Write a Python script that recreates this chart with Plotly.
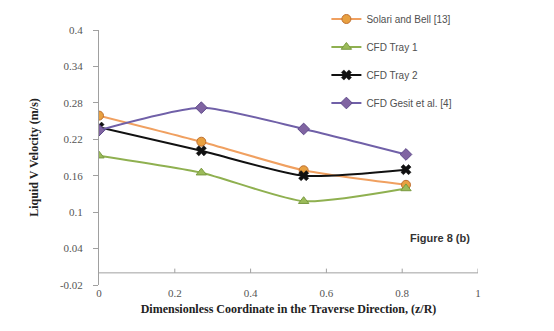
import plotly.graph_objects as go

# Data
x_pos = [0.0, 0.27, 0.54, 0.81]
solari_bell = [0.259, 0.216, 0.169, 0.145]
cfd_tray1 = [0.193, 0.165, 0.118, 0.139]
cfd_tray2 = [0.240, 0.201, 0.160, 0.170]
cfd_gesit = [0.235, 0.272, 0.237, 0.195]

series_names = ["Solari and Bell [13]", "CFD Tray 1", "CFD Tray 2", "CFD Gesit et al. [4]"]
y_ticks = [-0.02, 0.04, 0.1, 0.16, 0.22, 0.28, 0.34, 0.4]
y_tick_text = ["-0.02", "0.04", "0.1", "0.16", "0.22", "0.28", "0.34", "0.4"]
x_ticks = [0, 0.2, 0.4, 0.6, 0.8, 1]
x_tick_text = ["0", "0.2", "0.4", "0.6", "0.8", "1"]

styles = [
    dict(line_color="#F0A060", marker=dict(symbol="circle", size=9, color="#E8A040", line=dict(color="#C07030", width=1))),
    dict(line_color="#8FB050", marker=dict(symbol="triangle-up", size=9, color="#9BBB59", line=dict(color="#7A9A40", width=1))),
    dict(line_color="#111111", marker=dict(symbol="x", size=9, color="#111111", line=dict(color="#111111", width=0.5))),
    dict(line_color="#7060A8", marker=dict(symbol="diamond", size=9, color="#8064A2", line=dict(color="#5E4A8A", width=1))),
]

fig = go.Figure()
for i, (name, ys) in enumerate(zip(series_names, [solari_bell, cfd_tray1, cfd_tray2, cfd_gesit])):
    st = styles[i]
    fig.add_trace(go.Scatter(
        x=x_pos, y=ys, name=name, mode="lines+markers",
        line=dict(color=st["line_color"], width=2, shape="spline", smoothing=0.6),
        marker=st["marker"], legendgroup=f"g{i}",
    ))

# Excel-style horizontal axis line crossing at y = 0, with small tick marks
fig.add_hline(y=0, line_color="#A0A0A0", line_width=1)
for t in x_ticks[1:]:
    fig.add_shape(type="line", xref="x", yref="y", x0=t, x1=t, y0=0, y1=0.007,
                  line=dict(color="#A0A0A0", width=1))

fig.update_layout(
    width=554, height=331,
    margin=dict(l=91, r=84, t=22, b=54, autoexpand=False),
    paper_bgcolor="white", plot_bgcolor="white",
    font=dict(family="Liberation Serif", size=11, color="#555555"),
    showlegend=True,
    legend=dict(x=0.6, y=1.10, xanchor="left", yanchor="top",
                font=dict(family="Liberation Sans", size=10, color="#505050"),
                bgcolor="rgba(255,255,255,0)", tracegroupgap=9, traceorder="grouped"),
    xaxis=dict(range=[0, 1], tickvals=x_ticks, ticktext=x_tick_text,
               showgrid=False, zeroline=False, showline=False, ticks="",
               tickfont=dict(family="Liberation Serif", size=11, color="#555555"),
               title=dict(text="<b>Dimensionless Coordinate in the Traverse Direction, (z/R)</b>",
                          font=dict(family="Liberation Serif", size=12, color="#222222"),
                          standoff=6)),
    yaxis=dict(range=[-0.02, 0.4], tickvals=y_ticks, ticktext=y_tick_text,
               showgrid=False, zeroline=False, showline=True, linecolor="#A0A0A0",
               ticks="outside", ticklen=5, tickcolor="#A0A0A0", ticklabelstandoff=8,
               tickfont=dict(family="Liberation Serif", size=11, color="#555555"),
               title=dict(text="<b>Liquid V Velocity (m/s)</b>",
                          font=dict(family="Liberation Serif", size=12, color="#222222"),
                          standoff=18)),
    annotations=[
        dict(text="<b>Figure 8 (b)</b>", x=(464-91)/379, y=(277-230)/255, xref="paper", yref="paper",
             xanchor="right", yanchor="middle", showarrow=False,
             font=dict(family="Liberation Sans", size=11, color="#333333")),
    ],
)

fig.write_html("out.html")
